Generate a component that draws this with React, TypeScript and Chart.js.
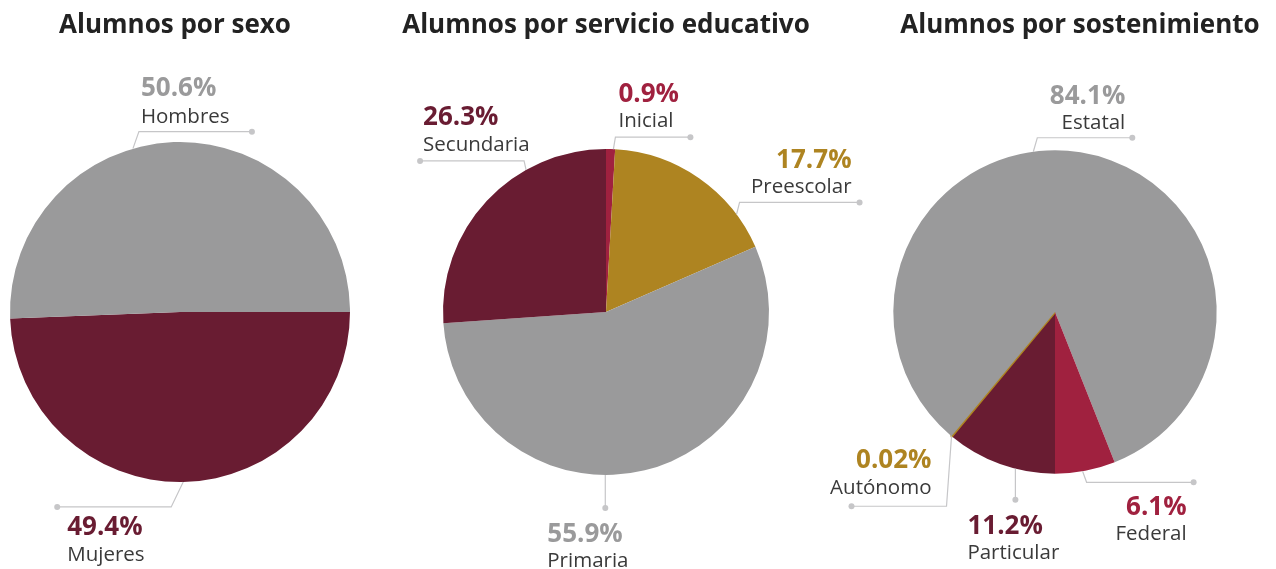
import React, { useEffect, useRef } from "react";
import { Chart, registerables } from "chart.js";

Chart.register(...registerables);

// ---------- data ----------
const sexoLabels = ["Mujeres", "Hombres"];
const sexoValues = [49.4, 50.6];

const servicioLabels = ["Inicial", "Preescolar", "Primaria", "Secundaria"];
const servicioValues = [0.9, 17.7, 55.9, 26.3];

const sostenLabels = ["Particular", "Autónomo", "Estatal", "Federal"];
const sostenValues = [11.2, 0.02, 84.1, 6.1];

// ---------- styles ----------
const GRAY = "#9a9a9b";
const MAROON = "#691c32";
const CRIMSON = "#a0213f";
const GOLD = "#ae8421";
const LINE = "#c6c6c8";
const NAME = "#3a3a3a";
const FONT = "'Open Sans', 'Noto Sans', sans-serif";

const sexoColors = [MAROON, GRAY];
const servicioColors = [CRIMSON, GOLD, GRAY, MAROON];
const sostenColors = [MAROON, GOLD, GRAY, CRIMSON];

const sexoBorders = [0, 0];
const servicioBorders = [0, 0, 0, 0];
const sostenBorders = [0, 2.6, 0, 0];

type Lay = { d: number; ex: number; ey: number; h: number; tx: number; from: "dot" | "elbow"; align: CanvasTextAlign; p: number; n: number };

const sexoLayout: Lay[] = [
  { d: 0, ex: -12, ey: 25, h: -114, tx: 10, from: "dot", align: "left", p: 28, n: 54 },
  { d: -15, ex: 6, ey: -17, h: 113, tx: 2, from: "elbow", align: "left", p: -36, n: -9 },
];
const servicioLayout: Lay[] = [
  { d: 1, ex: 2, ey: -12, h: 75, tx: 3, from: "elbow", align: "left", p: -35, n: -10 },
  { d: 18.4, ex: 3, ey: -12, h: 120, tx: -8, from: "dot", align: "right", p: -34, n: -9 },
  { d: 14, ex: 0, ey: 33, h: 0, tx: -58, from: "dot", align: "left", p: 34, n: 59 },
  { d: 17.6, ex: -2, ey: -9, h: -104, tx: 3, from: "dot", align: "left", p: -36, n: -10 },
];
const sostenLayout: Lay[] = [
  { d: -5.7, ex: 0, ey: 31, h: 0, tx: -48, from: "dot", align: "left", p: 34, n: 59 },
  { d: 0, ex: -5, ey: 70, h: -95, tx: -15, from: "elbow", align: "right", p: -38, n: -12 },
  { d: -16.8, ex: 4, ey: -14, h: 95, tx: -7, from: "dot", align: "right", p: -34, n: -9 },
  { d: 1, ex: 4, ey: 11, h: 107, tx: -7, from: "dot", align: "right", p: 33, n: 58 },
];

type Spec = {
  title: string;
  titleX: number;
  left: number;
  width: number;
  pad: { left: number; right: number; top: number; bottom: number };
  rotation: number;
  labels: string[];
  values: number[];
  colors: string[];
  borders: number[];
  layout: Lay[];
};

const specs: Spec[] = [
  {
    title: "Alumnos por sexo", titleX: 175, left: 0, width: 395,
    pad: { left: 10, right: 45, top: 142, bottom: 87 }, rotation: 90,
    labels: sexoLabels, values: sexoValues, colors: sexoColors, borders: sexoBorders, layout: sexoLayout,
  },
  {
    title: "Alumnos por servicio educativo", titleX: 211, left: 395, width: 475,
    pad: { left: 48, right: 101, top: 149, bottom: 94 }, rotation: 0,
    labels: servicioLabels, values: servicioValues, colors: servicioColors, borders: servicioBorders, layout: servicioLayout,
  },
  {
    title: "Alumnos por sostenimiento", titleX: 280, left: 800, width: 476,
    pad: { left: 92, right: 58, top: 149, bottom: 94 }, rotation: 180,
    labels: sostenLabels, values: sostenValues, colors: sostenColors, borders: sostenBorders, layout: sostenLayout,
  },
];

function PieChart({ spec }: { spec: Spec }) {
  const ref = useRef<HTMLCanvasElement | null>(null);
  useEffect(() => {
    if (!ref.current) return;
    const labelPlugin = {
      id: "leaderLabels",
      afterDraw(chart: any) {
        const ctx: CanvasRenderingContext2D = chart.ctx;
        ctx.save();
        ctx.fillStyle = "#222222";
        ctx.font = `bold 26px ${FONT}`;
        ctx.textAlign = "center";
        ctx.textBaseline = "alphabetic";
        ctx.fillText(spec.title, spec.titleX, 33);
        const meta = chart.getDatasetMeta(0);
        meta.data.forEach((arc: any, i: number) => {
          const L = spec.layout[i];
          const mid = (arc.startAngle + arc.endAngle) / 2 + (L.d * Math.PI) / 180;
          const sx = arc.x + Math.cos(mid) * arc.outerRadius;
          const sy = arc.y + Math.sin(mid) * arc.outerRadius;
          const exx = sx + L.ex;
          const eyy = sy + L.ey;
          const dx = exx + L.h;
          ctx.strokeStyle = LINE;
          ctx.lineWidth = 1.2;
          ctx.beginPath();
          ctx.moveTo(sx, sy);
          ctx.lineTo(exx, eyy);
          ctx.lineTo(dx, eyy);
          ctx.stroke();
          ctx.fillStyle = LINE;
          ctx.beginPath();
          ctx.arc(dx, eyy, 3, 0, Math.PI * 2);
          ctx.fill();
          const tx = (L.from === "dot" ? dx : exx) + L.tx;
          ctx.textAlign = L.align;
          ctx.fillStyle = spec.colors[i];
          ctx.font = `bold 26px ${FONT}`;
          ctx.fillText(`${spec.values[i]}%`, tx, eyy + L.p);
          ctx.fillStyle = NAME;
          ctx.font = `20.5px ${FONT}`;
          ctx.fillText(spec.labels[i], tx, eyy + L.n);
        });
        ctx.restore();
      },
    };
    const chart = new Chart(ref.current, {
      type: "pie",
      data: {
        labels: spec.labels,
        datasets: [
          {
            data: spec.values,
            backgroundColor: spec.colors,
            borderColor: spec.colors,
            borderWidth: spec.borders,
            borderAlign: "center",
          },
        ],
      },
      options: {
        responsive: false,
        animation: false,
        rotation: spec.rotation,
        events: [],
        layout: { padding: spec.pad },
        plugins: { legend: { display: false }, tooltip: { enabled: false }, title: { display: false } },
      },
      plugins: [labelPlugin],
    });
    return () => chart.destroy();
  }, [spec]);
  return (
    <canvas
      ref={ref}
      width={spec.width}
      height={569}
      style={{ position: "absolute", left: spec.left, top: 0, width: spec.width, height: 569 }}
    />
  );
}

export default function App() {
  return (
    <div style={{ position: "absolute", left: 0, top: 0, width: 1276, height: 569, background: "#fff", overflow: "hidden" }}>
      {specs.map((s) => (
        <PieChart key={s.title} spec={s} />
      ))}
    </div>
  );
}
